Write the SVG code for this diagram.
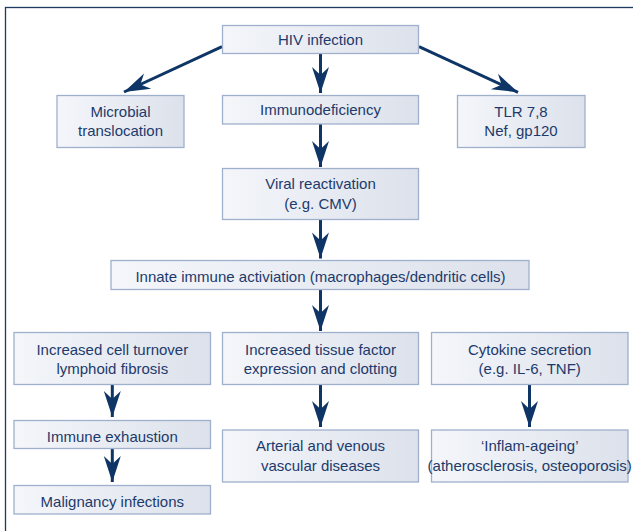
<svg xmlns="http://www.w3.org/2000/svg" width="633" height="531" viewBox="0 0 633 531">
<style>
.box{fill:url(#g);stroke:#9fb0cc;stroke-width:1.3}
.t{font-family:"Liberation Sans",Arial,sans-serif;font-size:15px;fill:#1d3a6b;text-anchor:middle}
.c{fill:none;stroke:#0f3566;stroke-width:3;marker-end:url(#ah)}
</style>
<defs>
<linearGradient id="g" x1="0" y1="0" x2="1" y2="0">
<stop offset="0" stop-color="#f4f6fa"/>
<stop offset="1" stop-color="#dce1eb"/>
</linearGradient>
<marker id="ah" markerUnits="userSpaceOnUse" viewBox="-27 -10 28 20" refX="0" refY="0" markerWidth="28" markerHeight="20" orient="auto">
<path d="M0,0 L-26,-8.5 L-18,0 L-26,8.5 Z" fill="#0f3566"/>
</marker>
</defs>
<rect x="5.5" y="7.5" width="640" height="540" fill="#ffffff" stroke="#1e3a5f" stroke-width="1.3"/>
<g id="connectors">
<line class="c" x1="222" y1="46.7" x2="124" y2="92"/>
<line class="c" x1="320.5" y1="53.5" x2="320.5" y2="93"/>
<line class="c" x1="419" y1="46.7" x2="518" y2="92.3"/>
<line class="c" x1="320.5" y1="124" x2="320.5" y2="167"/>
<line class="c" x1="320.5" y1="219.5" x2="320.5" y2="258.5"/>
<line class="c" x1="320.5" y1="289.5" x2="320.5" y2="331"/>
<line class="c" x1="112.3" y1="384.5" x2="112.3" y2="417"/>
<line class="c" x1="112.3" y1="449" x2="112.3" y2="482"/>
<line class="c" x1="320.5" y1="384.5" x2="320.5" y2="427"/>
<line class="c" x1="529.5" y1="384.5" x2="529.5" y2="427"/>
</g>
<g id="hiv"><rect class="box" x="222.5" y="25.5" width="196" height="28"/><text class="t" x="320.5" y="45">HIV infection</text></g>
<g id="microbial"><rect class="box" x="57" y="95.5" width="127" height="52"/><text class="t" x="120.5" y="117">Microbial</text><text class="t" x="120.5" y="136">translocation</text></g>
<g id="immunodeficiency"><rect class="box" x="222.5" y="95.5" width="196" height="28.5"/><text class="t" x="320.5" y="115">Immunodeficiency</text></g>
<g id="tlr"><rect class="box" x="457.5" y="95.5" width="127.5" height="52"/><text class="t" x="521" y="117">TLR 7,8</text><text class="t" x="521" y="136">Nef, gp120</text></g>
<g id="viral"><rect class="box" x="222.5" y="168.5" width="196" height="51"/><text class="t" x="320.5" y="189">Viral reactivation</text><text class="t" x="320.5" y="209">(e.g. CMV)</text></g>
<g id="innate"><rect class="box" x="111" y="260.5" width="418" height="29"/><text class="t" x="320.5" y="282">Innate immune activiation (macrophages/dendritic cells)</text></g>
<g id="turnover"><rect class="box" x="14" y="332.5" width="196.5" height="52"/><text class="t" x="112.3" y="354.5">Increased cell turnover</text><text class="t" x="112.3" y="374">lymphoid fibrosis</text></g>
<g id="tissue"><rect class="box" x="222.5" y="332.5" width="196" height="52"/><text class="t" x="320.5" y="354.5">Increased tissue factor</text><text class="t" x="320.5" y="374">expression and clotting</text></g>
<g id="cytokine"><rect class="box" x="431.5" y="332.5" width="196.5" height="52"/><text class="t" x="529.7" y="354.5">Cytokine secretion</text><text class="t" x="529.7" y="374">(e.g. IL-6, TNF)</text></g>
<g id="exhaustion"><rect class="box" x="14" y="420.5" width="196.5" height="28"/><text class="t" x="112.3" y="442">Immune exhaustion</text></g>
<g id="vascular"><rect class="box" x="222.5" y="430" width="196" height="52"/><text class="t" x="320.5" y="451">Arterial and venous</text><text class="t" x="320.5" y="471">vascular diseases</text></g>
<g id="inflam"><rect class="box" x="431.5" y="430" width="196.5" height="52"/><text class="t" x="529.7" y="451">‘Inflam-ageing’</text><text class="t" x="529.7" y="471">(atherosclerosis, osteoporosis)</text></g>
<g id="malignancy"><rect class="box" x="14" y="485.5" width="196.5" height="28.5"/><text class="t" x="112.3" y="507">Malignancy infections</text></g>
</svg>
